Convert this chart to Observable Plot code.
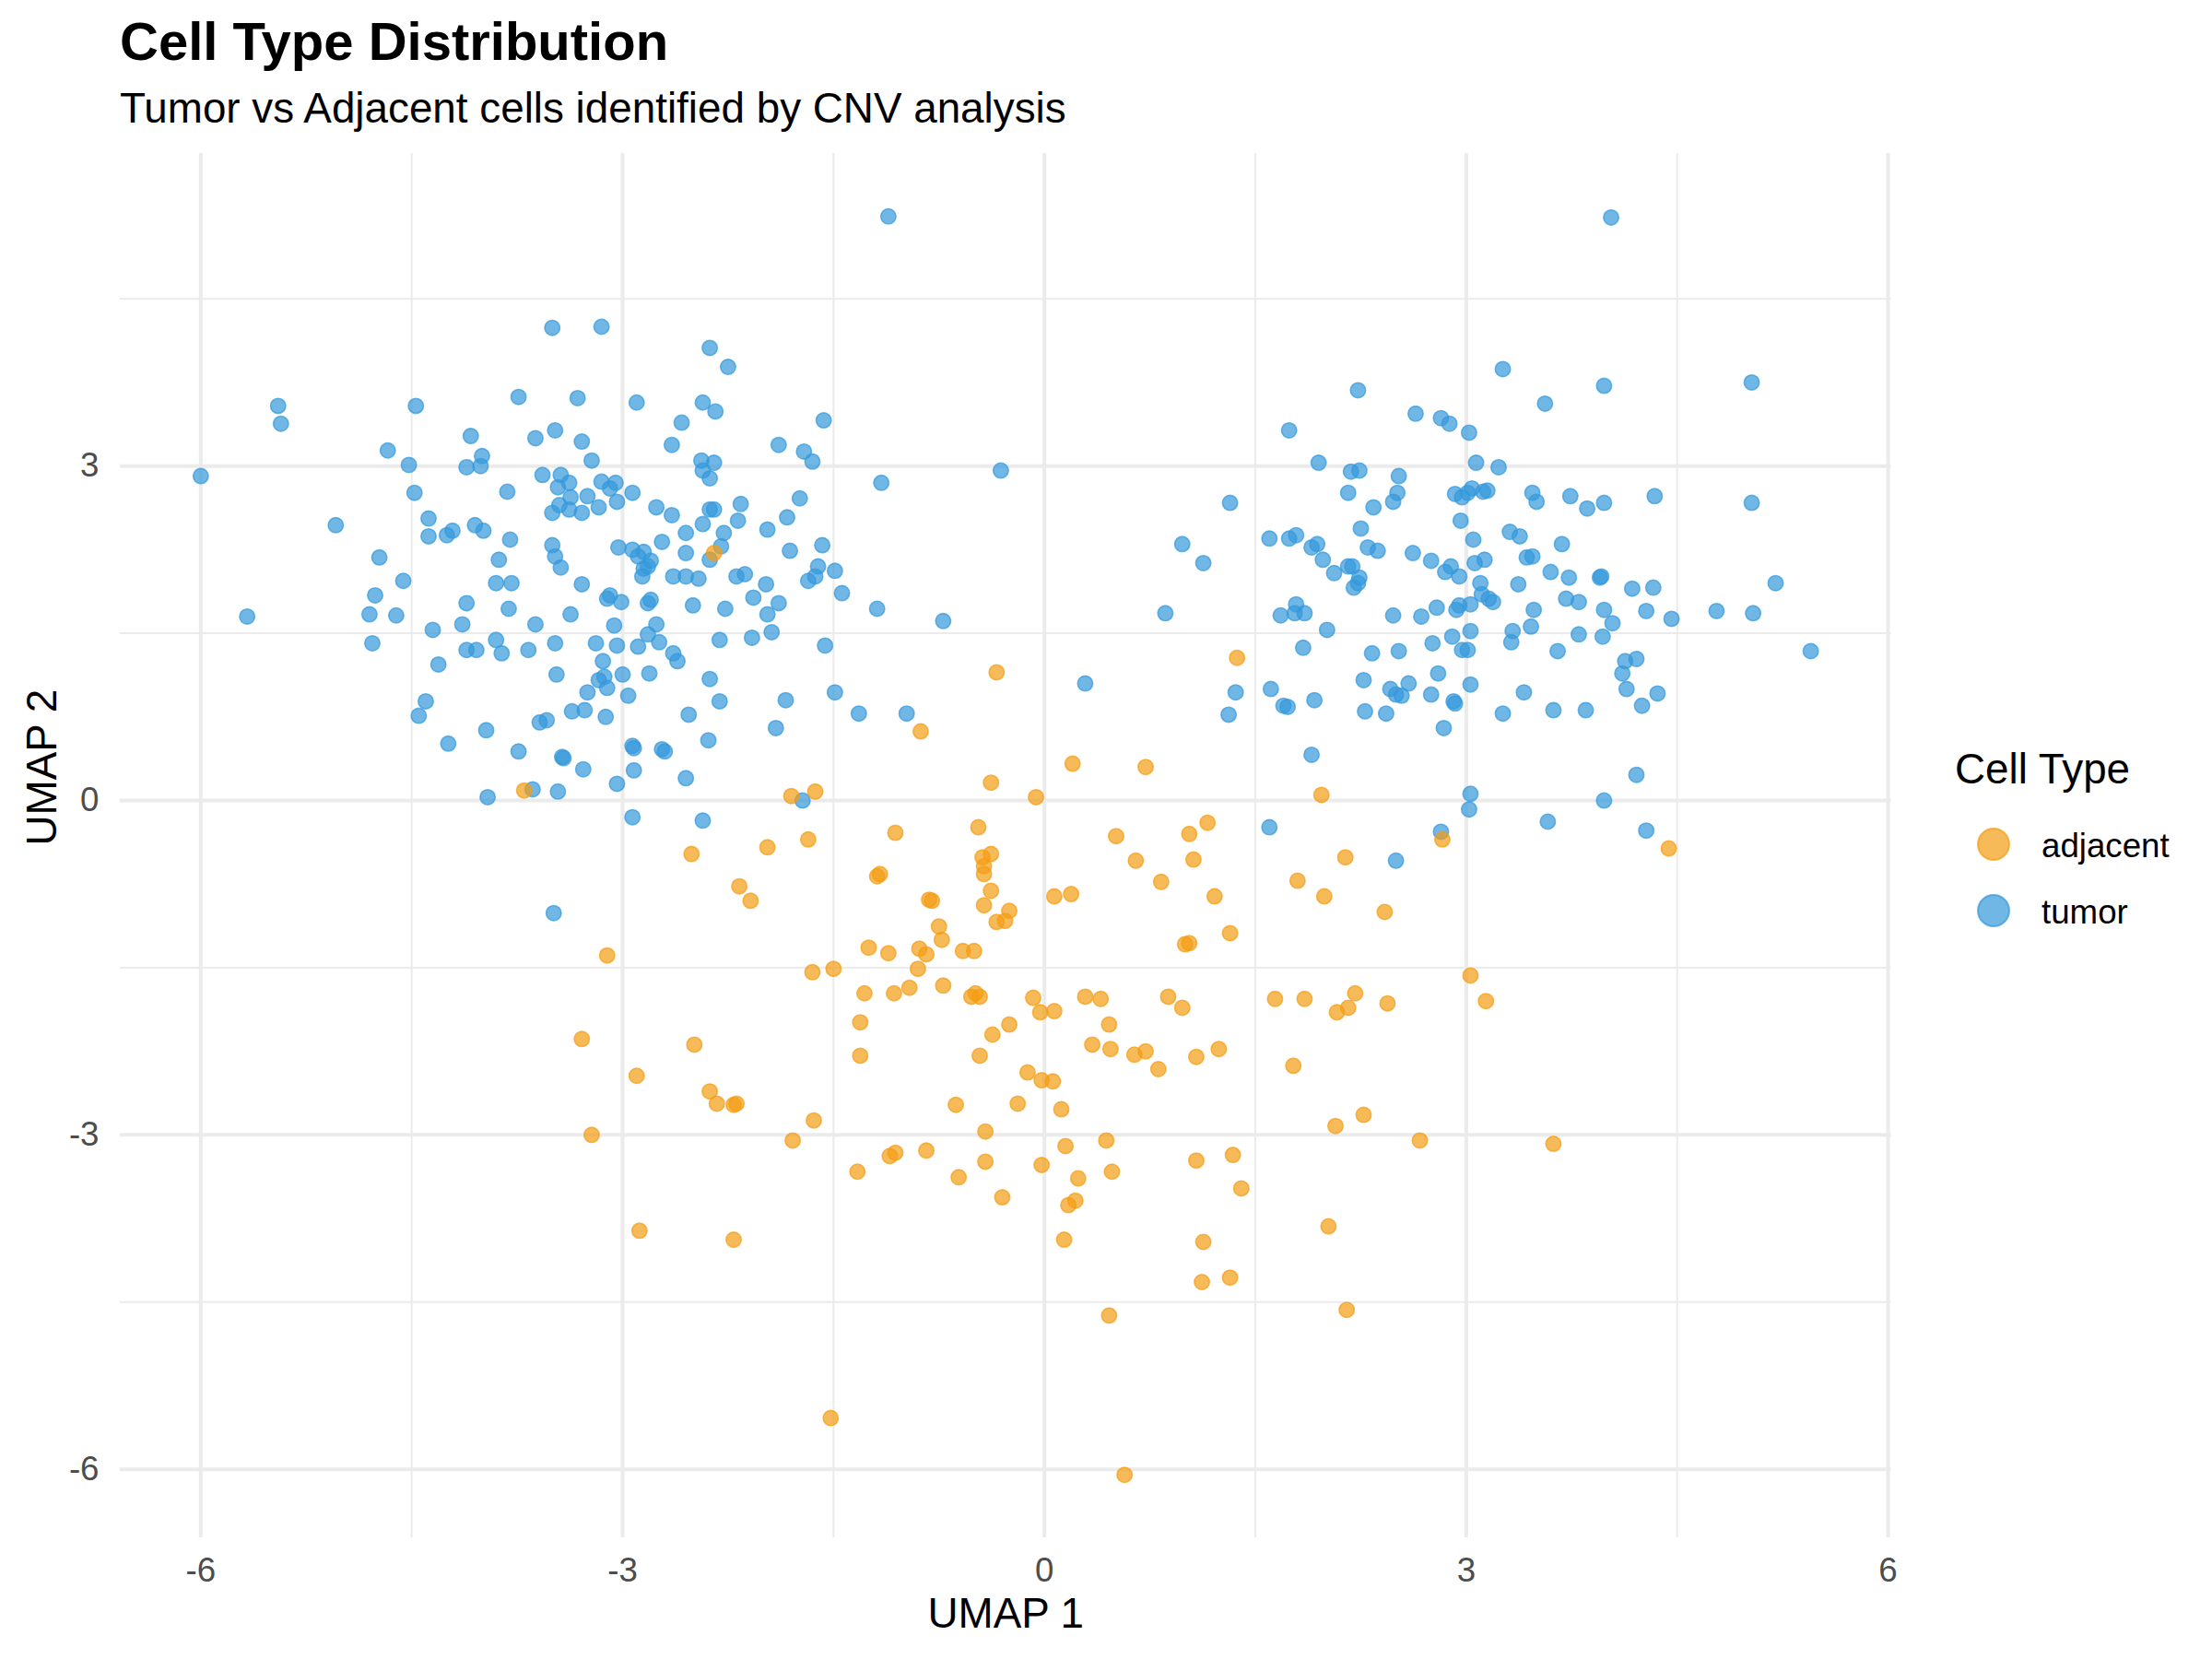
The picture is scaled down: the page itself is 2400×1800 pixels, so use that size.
<!DOCTYPE html>
<html>
<head>
<meta charset="utf-8">
<script src="https://cdn.jsdelivr.net/npm/d3@7"></script>
<script src="https://cdn.jsdelivr.net/npm/@observablehq/plot@0.6"></script>
<style>
  body { margin: 0; background: #ffffff; font-family: "Liberation Sans", Arial, Helvetica, sans-serif; }
  #page { position: relative; width: 2400px; height: 1800px; background: #fff; overflow: hidden; }
  #head { position: relative; height: 150px; }
  .title { position: absolute; left: 130px; top: 16px; font-size: 58px; font-weight: bold; line-height: 1; white-space: nowrap; color: #000; }
  .subtitle { position: absolute; left: 130px; top: 95px; font-size: 45.8px; line-height: 1; white-space: nowrap; color: #000; }
  #legend { position: absolute; left: 0; top: 0; width: 2400px; height: 1800px; pointer-events: none; }
  .ltitle { position: absolute; left: 2121px; top: 812px; font-size: 45.8px; line-height: 1; white-space: nowrap; color: #000; }
  .llabel { position: absolute; left: 2215px; font-size: 36.7px; line-height: 1; white-space: nowrap; color: #000; }
  .lkey { position: absolute; left: 2144px; width: 38px; height: 38px; }
</style>
</head>
<body>
<div id="page">
  <div id="head">
    <div class="title">Cell Type Distribution</div>
    <div class="subtitle">Tumor vs Adjacent cells identified by CNV analysis</div>
  </div>
  <div id="chart"></div>
  <div id="legend"></div>
</div>
<script>
// ---- data (UMAP coordinates) ----
const cellTypes = ["adjacent", "tumor"];
const cellColors = ["#F39C12", "#3498DB"];
const xTicks = [-6, -3, 0, 3, 6];
const yTicks = [-6, -3, 0, 3];
const xMinor = [-4.5, -1.5, 1.5, 4.5];
const yMinor = [-4.5, -1.5, 1.5, 4.5];

const tumorUMAP = [
  [-3.50,4.24],[-3.15,4.25],[-2.38,4.06],[-2.25,3.89],[-3.74,3.62],[-3.32,3.61],[-2.90,3.57],[-2.43,3.57],
  [-5.45,3.54],[-4.47,3.54],[-2.34,3.49],[-5.43,3.38],[-2.58,3.39],[-1.57,3.41],[-4.08,3.27],[-3.62,3.25],
  [-3.48,3.32],[-2.65,3.19],[-3.29,3.22],[-4.67,3.14],[-1.89,3.19],[-1.71,3.13],[-4.00,3.09],[-4.52,3.01],
  [-4.11,2.99],[-4.01,3.00],[-2.44,3.05],[-2.35,3.03],[-1.65,3.04],[-3.22,3.05],[-2.43,2.96],[-6.00,2.91],
  [-3.57,2.92],[-3.44,2.92],[-3.15,2.86],[-3.05,2.85],[-2.38,2.89],[-3.46,2.81],[-3.38,2.85],[-3.09,2.80],
  [-1.16,2.85],[-0.31,2.96],[-3.82,2.77],[-4.48,2.76],[-3.37,2.72],[-3.25,2.73],[-2.93,2.76],[-1.74,2.71],
  [-3.04,2.68],[-2.16,2.66],[-3.45,2.65],[-3.38,2.61],[-3.17,2.63],[-2.76,2.63],[-3.50,2.58],[-3.29,2.58],
  [-2.38,2.61],[-2.35,2.61],[-2.65,2.56],[-4.38,2.53],[-2.18,2.51],[-2.43,2.48],[-1.83,2.54],[-5.04,2.47],
  [-4.05,2.47],[-3.99,2.42],[-4.21,2.42],[-4.25,2.38],[-4.38,2.37],[-1.97,2.43],[-2.28,2.40],[-2.55,2.40],
  [-3.80,2.34],[-3.50,2.29],[-2.72,2.32],[-3.03,2.27],[-2.93,2.25],[-2.85,2.23],[-2.30,2.28],[-1.58,2.29],
  [-2.89,2.19],[-1.81,2.24],[-4.73,2.18],[-3.88,2.16],[-3.48,2.19],[-2.38,2.16],[-2.55,2.22],[-2.80,2.15],
  [-2.85,2.08],[-2.82,2.10],[-3.44,2.09],[-1.61,2.10],[-1.49,2.06],[-2.86,2.01],[-2.64,2.01],[-2.55,2.01],
  [-2.46,1.99],[-2.19,2.01],[-2.13,2.03],[-1.68,1.97],[-1.63,2.01],[-4.56,1.97],[-3.90,1.95],[-3.79,1.95],
  [-3.29,1.94],[-1.98,1.94],[-1.44,1.86],[-4.76,1.84],[-2.07,1.82],[-3.09,1.84],[-3.11,1.81],[-4.11,1.77],
  [-3.01,1.78],[-2.82,1.77],[-2.80,1.80],[-1.89,1.77],[-2.50,1.75],[-2.27,1.72],[-3.81,1.72],[-1.19,1.72],
  [-4.80,1.67],[-4.61,1.66],[-3.37,1.67],[-5.67,1.65],[-1.97,1.67],[-0.72,1.61],[-4.14,1.58],[-3.62,1.58],
  [-2.76,1.58],[-3.06,1.57],[-4.35,1.53],[-1.94,1.51],[-2.82,1.49],[-3.90,1.44],[-2.08,1.46],[-2.31,1.44],
  [-4.78,1.41],[-3.19,1.41],[-3.04,1.39],[-3.48,1.41],[-2.89,1.38],[-1.56,1.39],[-4.11,1.35],[-4.04,1.35],
  [-3.86,1.32],[-3.67,1.35],[-2.74,1.42],[-2.64,1.32],[-3.14,1.25],[-2.61,1.25],[-4.31,1.22],[-3.47,1.13],
  [-3.13,1.11],[-3.00,1.13],[-2.81,1.14],[-2.38,1.09],[-1.49,0.97],[-3.17,1.08],[-3.11,1.01],[-2.96,0.94],
  [-3.25,0.97],[-2.31,0.89],[-4.40,0.89],[-1.84,0.90],[-3.36,0.80],[-3.27,0.81],[-3.12,0.75],[-2.53,0.77],
  [-4.45,0.76],[-1.32,0.78],[-0.98,0.78],[-3.54,0.72],[-3.59,0.70],[-3.97,0.63],[-1.91,0.65],[-4.24,0.51],
  [-2.93,0.49],[-2.92,0.47],[-2.39,0.54],[-3.43,0.39],[-3.42,0.38],[-2.72,0.46],[-2.70,0.44],[-3.74,0.44],
  [-3.28,0.28],[-2.92,0.27],[-3.04,0.15],[-2.55,0.20],[-3.64,0.10],[-3.46,0.08],[-3.96,0.03],[-2.93,-0.15],
  [-2.43,-0.18],[-1.72,0.00],[-3.49,-1.01],[-1.11,5.24],
  [4.03,5.23],[5.03,3.75],[3.26,3.87],[2.23,3.68],[3.98,3.72],[3.56,3.56],[2.64,3.47],[2.82,3.43],
  [2.88,3.38],[1.74,3.32],[3.02,3.30],[1.95,3.03],[2.18,2.95],[2.24,2.96],[2.52,2.91],[3.07,3.03],
  [3.23,2.99],[3.01,2.76],[2.92,2.75],[2.97,2.72],[2.16,2.76],[2.51,2.76],[3.12,2.77],[3.15,2.78],
  [3.04,2.80],[3.47,2.76],[3.74,2.73],[4.34,2.73],[5.03,2.67],[3.50,2.68],[2.48,2.68],[3.98,2.67],
  [3.86,2.62],[1.32,2.67],[2.34,2.63],[2.96,2.51],[2.25,2.44],[3.31,2.41],[3.38,2.37],[3.05,2.34],
  [1.79,2.38],[1.74,2.35],[1.60,2.35],[3.68,2.30],[0.98,2.30],[1.94,2.30],[1.90,2.27],[2.30,2.27],
  [2.37,2.24],[2.62,2.22],[3.13,2.16],[3.43,2.18],[3.47,2.19],[2.75,2.15],[1.98,2.16],[3.06,2.13],
  [2.89,2.10],[2.16,2.10],[2.19,2.10],[1.13,2.13],[3.60,2.05],[2.85,2.05],[2.06,2.04],[2.95,2.01],
  [3.73,2.00],[3.95,2.00],[3.96,2.01],[2.24,2.00],[5.20,1.95],[3.10,1.95],[3.37,1.94],[2.23,1.95],
  [4.18,1.90],[4.33,1.91],[2.20,1.91],[3.11,1.85],[3.16,1.81],[3.19,1.78],[3.71,1.81],[3.80,1.78],
  [2.95,1.75],[3.03,1.76],[2.79,1.73],[1.79,1.76],[3.48,1.71],[3.98,1.71],[4.28,1.70],[4.78,1.70],
  [5.04,1.68],[2.93,1.71],[1.78,1.68],[0.86,1.68],[1.85,1.68],[1.68,1.66],[2.48,1.66],[2.68,1.65],
  [4.46,1.63],[4.04,1.59],[3.46,1.56],[2.01,1.53],[3.03,1.52],[3.33,1.52],[2.90,1.47],[3.80,1.49],
  [3.97,1.47],[2.76,1.41],[3.32,1.42],[2.97,1.35],[3.01,1.35],[5.45,1.34],[3.65,1.34],[2.52,1.34],
  [1.84,1.37],[2.33,1.32],[4.13,1.25],[4.21,1.27],[4.11,1.14],[2.80,1.14],[2.27,1.08],[0.29,1.05],
  [3.03,1.04],[4.14,1.00],[2.46,1.00],[2.59,1.05],[2.50,0.95],[3.41,0.97],[4.36,0.96],[2.54,0.94],
  [1.36,0.97],[1.61,1.00],[2.75,0.95],[1.92,0.90],[2.91,0.89],[2.92,0.87],[4.25,0.85],[1.70,0.85],
  [1.73,0.84],[2.28,0.80],[2.43,0.78],[3.26,0.78],[3.62,0.81],[3.85,0.81],[1.31,0.77],[2.84,0.65],
  [1.90,0.41],[4.21,0.23],[3.03,0.06],[3.98,0.00],[3.02,-0.08],[2.82,-0.28],[1.60,-0.24],[4.28,-0.27],
  [3.58,-0.19],[2.50,-0.54]
];

const adjacentUMAP = [
  [1.37,1.28],[-0.34,1.15],[-0.88,0.62],[-2.35,2.22],[-0.38,0.16],[0.20,0.33],[0.72,0.30],[-0.06,0.03],
  [-1.63,0.08],[-1.80,0.04],[-3.70,0.09],[-1.06,-0.29],[-0.47,-0.24],[-1.97,-0.42],[-1.68,-0.35],[-2.51,-0.48],
  [1.97,0.05],[1.16,-0.20],[1.03,-0.30],[0.51,-0.32],[0.65,-0.54],[1.06,-0.53],[2.14,-0.51],[2.83,-0.35],
  [4.44,-0.43],[-0.44,-0.51],[-0.38,-0.48],[-0.43,-0.59],[-0.43,-0.66],[-1.19,-0.68],[-1.17,-0.66],[-2.17,-0.77],
  [-2.09,-0.90],[0.83,-0.73],[0.07,-0.86],[0.19,-0.84],[1.21,-0.86],[1.80,-0.72],[1.99,-0.86],[-0.38,-0.81],
  [-0.82,-0.89],[-0.80,-0.90],[-0.43,-0.94],[2.42,-1.00],[-0.25,-0.99],[-0.28,-1.08],[-0.34,-1.09],[-0.75,-1.13],
  [-0.73,-1.25],[1.03,-1.28],[1.00,-1.29],[1.32,-1.19],[3.03,-1.57],[-1.25,-1.32],[-1.11,-1.37],[-0.89,-1.33],
  [-0.84,-1.38],[-0.58,-1.35],[-0.50,-1.35],[-3.11,-1.39],[-0.90,-1.51],[-1.50,-1.51],[-1.65,-1.54],[-0.72,-1.66],
  [-0.96,-1.68],[-1.28,-1.73],[-1.07,-1.73],[-0.49,-1.73],[-0.46,-1.76],[-0.52,-1.76],[-0.08,-1.77],[-0.03,-1.90],
  [0.07,-1.89],[0.29,-1.76],[0.40,-1.78],[0.88,-1.76],[0.98,-1.86],[1.64,-1.78],[1.85,-1.78],[2.21,-1.73],
  [2.16,-1.86],[2.08,-1.90],[2.44,-1.82],[3.14,-1.80],[-1.31,-1.99],[0.46,-2.01],[-0.25,-2.01],[-0.37,-2.10],
  [0.34,-2.19],[0.47,-2.23],[0.72,-2.25],[0.64,-2.28],[1.08,-2.30],[1.24,-2.23],[0.81,-2.41],[-0.46,-2.29],
  [-3.29,-2.14],[-2.49,-2.19],[-1.31,-2.29],[1.77,-2.38],[-0.12,-2.44],[-0.02,-2.51],[0.06,-2.52],[-2.90,-2.47],
  [-2.38,-2.61],[-2.33,-2.72],[-2.21,-2.73],[-2.19,-2.72],[-0.63,-2.73],[-0.19,-2.72],[0.12,-2.77],[2.27,-2.82],
  [-1.64,-2.87],[2.07,-2.92],[-0.42,-2.97],[-3.22,-3.00],[-1.79,-3.05],[0.44,-3.05],[2.67,-3.05],[3.62,-3.08],
  [0.15,-3.10],[-1.10,-3.19],[-1.06,-3.16],[-0.84,-3.14],[1.08,-3.23],[1.34,-3.18],[-0.42,-3.24],[-0.02,-3.27],
  [-1.33,-3.33],[-0.61,-3.38],[0.48,-3.33],[0.24,-3.39],[1.40,-3.48],[-0.30,-3.56],[0.22,-3.59],[0.17,-3.63],
  [2.02,-3.82],[-2.88,-3.86],[-2.21,-3.94],[0.14,-3.94],[1.13,-3.96],[1.12,-4.32],[1.32,-4.28],[2.15,-4.57],
  [0.46,-4.62],[-1.52,-5.54],[0.57,-6.05]
];

// ---- build the table ----
const cells = [
  ...tumorUMAP.map(([x, y]) => ({umap1: x, umap2: y, type: "tumor"})),
  ...adjacentUMAP.map(([x, y]) => ({umap1: x, umap2: y, type: "adjacent"}))
];

function expand(ext, f = 0.05) {
  const d = (ext[1] - ext[0]) * f;
  return [ext[0] - d, ext[1] + d];
}
const xDomain = expand(d3.extent(cells, d => d.umap1));
const yDomain = expand(d3.extent(cells, d => d.umap2));

const gridColor = "#EBEBEB";
const svgHeight = 1650;

const chart = Plot.plot({
  width: 2400,
  height: svgHeight,
  marginTop: 16,
  marginBottom: 132,
  marginLeft: 130,
  marginRight: 348.5,
  style: "font-family: 'Liberation Sans', Arial, Helvetica, sans-serif; font-size: 36.7px; background: #ffffff; overflow: visible;",
  x: {domain: xDomain},
  y: {domain: yDomain},
  color: {domain: cellTypes, range: cellColors},
  marks: [
    Plot.gridX(xMinor, {stroke: gridColor, strokeOpacity: 1, strokeWidth: 2}),
    Plot.gridY(yMinor, {stroke: gridColor, strokeOpacity: 1, strokeWidth: 2}),
    Plot.gridX(xTicks, {stroke: gridColor, strokeOpacity: 1, strokeWidth: 4}),
    Plot.gridY(yTicks, {stroke: gridColor, strokeOpacity: 1, strokeWidth: 4}),
    Plot.axisX({ticks: xTicks, tickSize: 0, tickPadding: 21, tickFormat: d => String(d), label: null, fill: "#4D4D4D", fontSize: 36.7}),
    Plot.axisY({ticks: yTicks, tickSize: 0, tickPadding: 23, tickFormat: d => String(d), label: null, fill: "#4D4D4D", fontSize: 36.7}),
    Plot.dot(cells, {
      x: "umap1", y: "umap2", fill: "type", stroke: "type",
      r: 8.2, strokeWidth: 1.6, fillOpacity: 0.7, strokeOpacity: 0.7
    }),
    Plot.text(["UMAP 1"], {frameAnchor: "bottom", dy: 97, fontSize: 45.8, fill: "#000"}),
    Plot.text(["UMAP 2"], {frameAnchor: "left", rotate: -90, dx: -84, fontSize: 45.8, fill: "#000"})
  ]
});
document.getElementById("chart").appendChild(chart);

// ---- legend ----
const legend = document.getElementById("legend");
const lt = document.createElement("div");
lt.className = "ltitle";
lt.textContent = "Cell Type";
legend.appendChild(lt);
const keyCenters = [915.5, 987.5];
cellTypes.forEach((t, i) => {
  const c = cellColors[i];
  const key = document.createElement("div");
  key.className = "lkey";
  key.style.top = (keyCenters[i] - 19) + "px";
  key.innerHTML = `<svg width="38" height="38"><circle cx="19" cy="19" r="17" fill="${c}" fill-opacity="0.7" stroke="${c}" stroke-opacity="0.7" stroke-width="2"/></svg>`;
  legend.appendChild(key);
  const lab = document.createElement("div");
  lab.className = "llabel";
  lab.style.top = (keyCenters[i] - 16) + "px";
  lab.textContent = t;
  legend.appendChild(lab);
});
</script>
</body>
</html>
